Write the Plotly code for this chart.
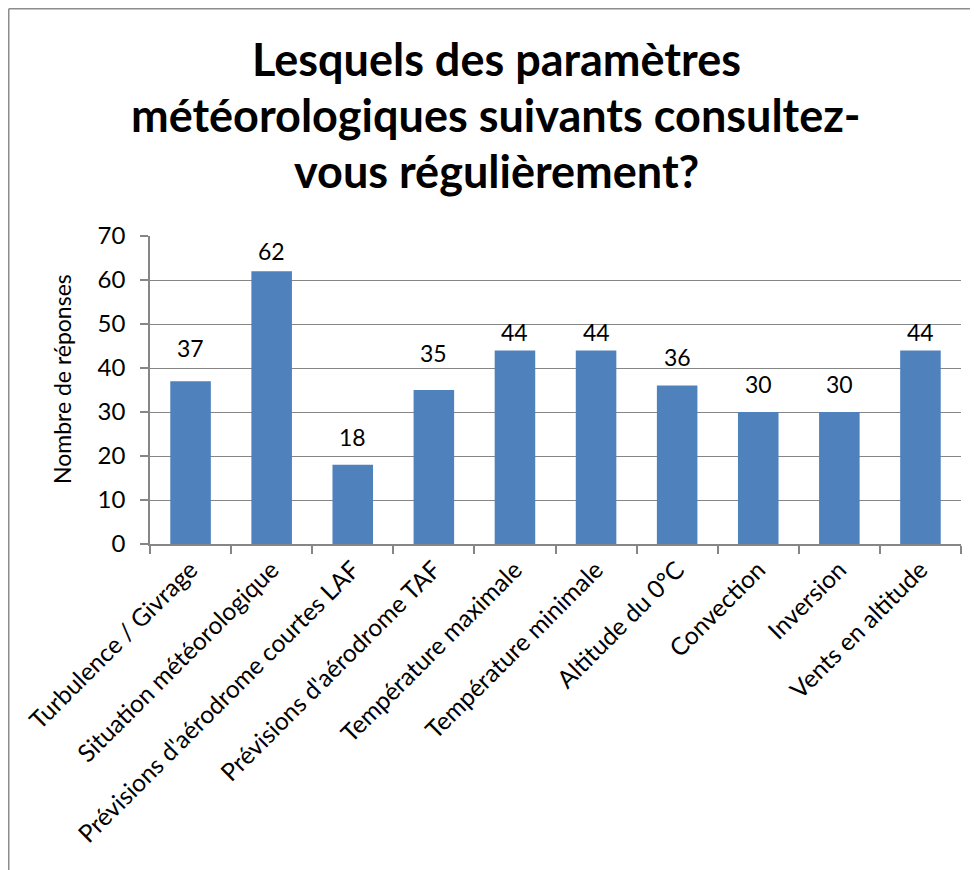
import plotly.graph_objects as go

categories = [
    "Turbulence / Givrage",
    "Situation météorologique",
    "Prévisions d'aérodrome courtes LAF",
    "Prévisions d'aérodrome TAF",
    "Température maximale",
    "Température minimale",
    "Altitude du 0°C",
    "Convection",
    "Inversion",
    "Vents en altitude",
]
values = [37, 62, 18, 35, 44, 44, 36, 30, 30, 44]
y_ticks = [0, 10, 20, 30, 40, 50, 60, 70]
title_lines = [
    "Lesquels des paramètres",
    "météorologiques suivants consultez-",
    "vous régulièrement?",
]
y_title = "Nombre de réponses"

# label gap above each bar (pixels), as placed in the original chart
label_gap_px = [33, 20, 28, 37, 18, 18, 29, 28, 28, 18]

OFF = 8  # page body margin
W, H = 978 - OFF, 870 - OFF
L, R, T, B = 150 - OFF, 17, 236 - OFF, 326
pw, ph = W - L - R, H - T - B

FONT = "Lato"
GRID = "#868686"

fig = go.Figure(
    go.Bar(
        x=categories,
        y=values,
        marker=dict(color="#4F81BD", line=dict(width=0)),
        width=0.5,
        hoverinfo="skip",
    )
)

annotations = []
for c, v, g in zip(categories, values, label_gap_px):
    annotations.append(dict(
        x=c, y=v, xref="x", yref="y", text=str(v), showarrow=False,
        yanchor="middle", yshift=g, font=dict(family=FONT, size=23, color="#000000"),
    ))

def px_x(p):
    return (p - 150) / pw

def px_y(p):
    return 1 + (236 - p) / ph

title_y_px = [59, 115, 171]
for t, ypx in zip(title_lines, title_y_px):
    annotations.append(dict(
        x=px_x(496), y=px_y(ypx), xref="paper", yref="paper",
        text=f"<b>{t}</b>", showarrow=False, xanchor="center", yanchor="middle",
        font=dict(family=FONT, size=45, color="#000000"),
    ))

annotations.append(dict(
    x=px_x(62), y=px_y(379), xref="paper", yref="paper",
    text=y_title, textangle=-90, showarrow=False, xanchor="center", yanchor="middle",
    font=dict(family=FONT, size=23, color="#000000"),
))

fig.update_layout(
    width=W, height=H,
    margin=dict(l=L, r=R, t=T, b=B, autoexpand=False),
    paper_bgcolor="white", plot_bgcolor="white",
    showlegend=False,
    annotations=annotations,
    shapes=[
        dict(type="line", xref="paper", yref="paper",
             x0=px_x(8.75), x1=px_x(8.75), y0=px_y(8.75), y1=px_y(900),
             line=dict(color="#8c8c8c", width=1.5)),
        dict(type="line", xref="paper", yref="paper",
             x0=px_x(8.75), x1=px_x(1000), y0=px_y(8.75), y1=px_y(8.75),
             line=dict(color="#8c8c8c", width=1.5)),
    ],
    xaxis=dict(
        type="category",
        showline=True, linecolor=GRID, linewidth=1.5,
        ticks="outside", tickson="boundaries", ticklen=8, tickcolor=GRID, tickwidth=1.5,
        tickangle=-45,
        tickfont=dict(family=FONT, size=24.5, color="#000000"),
        showgrid=False,
    ),
    yaxis=dict(
        range=[0, 70], tickvals=y_ticks,
        showline=True, linecolor=GRID, linewidth=1.5,
        ticks="outside", ticklen=8, tickcolor=GRID, tickwidth=1.5,
        showgrid=True, gridcolor=GRID, gridwidth=1,
        zeroline=False,
        ticklabelstandoff=10,
        tickfont=dict(family=FONT, size=24, color="#000000"),
    ),
)

fig.write_html("out.html")
